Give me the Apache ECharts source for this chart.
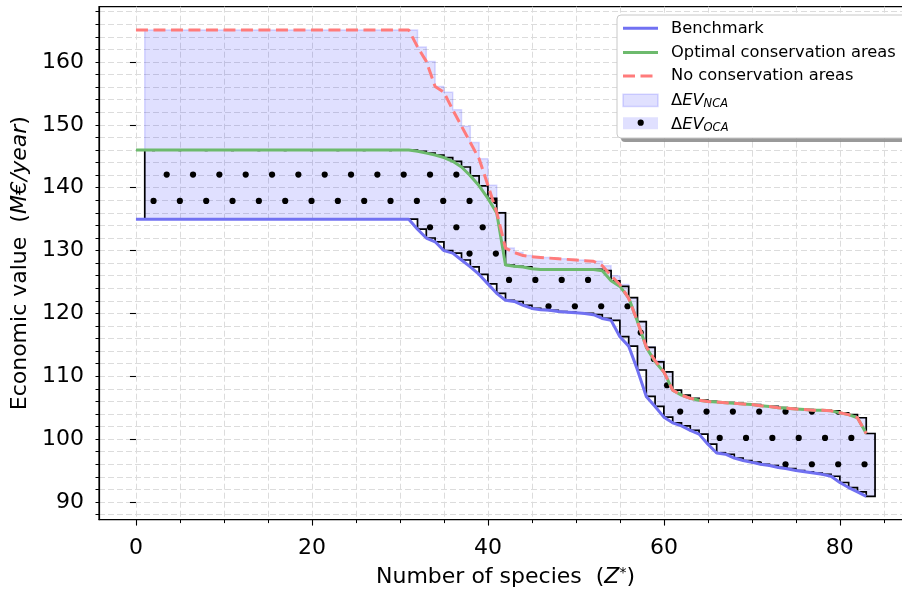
<!DOCTYPE html>
<html><head><meta charset="utf-8">
<script src="https://cdn.jsdelivr.net/npm/echarts@6/dist/echarts.min.js"></script>
<style>html,body{margin:0;padding:0;background:#fff;overflow:hidden}#c{width:902px;height:595px}</style>
</head><body><div id="c"></div>
<script>
// ---- data ----
const speciesX = [0,1,2,3,4,5,6,7,8,9,10,11,12,13,14,15,16,17,18,19,20,21,22,23,24,25,26,27,28,29,
  30,31,32,33,34,35,36,37,38,39,40,41,42,43,44,45,46,47,48,49,50,51,52,53,54,55,56,57,58,59,
  60,61,62,63,64,65,66,67,68,69,70,71,72,73,74,75,76,77,78,79,80,81,82,83];
const benchmark = [135,135,135,135,135,135,135,135,135,135,135,135,135,135,135,135,135,135,135,135,
  135,135,135,135,135,135,135,135,135,135,135,135.0,133.4,132.0,131.4,130.0,129.6,128.5,127.4,126.2,
  124.7,123.2,122.1,121.9,121.3,120.8,120.6,120.5,120.3,120.2,120.1,120.0,119.8,119.2,118.9,116.3,114.8,111.0,106.8,105.2,
  103.5,102.6,102.1,101.4,100.8,99.2,97.8,97.6,97.0,96.6,96.3,96.0,95.8,95.5,95.3,95.0,94.8,94.6,94.4,94.1,
  93.1,92.3,91.6,90.9];
const optimalCA = [146,146,146,146,146,146,146,146,146,146,146,146,146,146,146,146,146,146,146,146,
  146,146,146,146,146,146,146,146,146,146,146,146.0,145.8,145.5,145.2,144.8,144.2,143.3,141.9,140.3,
  138.3,136.0,127.7,127.5,127.4,127.1,127.0,127.0,127.0,127.0,127.0,127.0,127.0,126.8,125.2,124.3,122.5,118.7,114.6,112.3,
  110.7,107.8,107.0,106.5,106.2,106.0,105.9,105.8,105.7,105.6,105.5,105.3,105.2,105.0,104.9,104.8,104.7,104.6,104.6,104.5,
  104.2,103.9,103.4,100.9];
const noCA = [165.1,165.1,165.1,165.1,165.1,165.1,165.1,165.1,165.1,165.1,165.1,165.1,165.1,165.1,165.1,165.1,165.1,165.1,165.1,165.1,
  165.1,165.1,165.1,165.1,165.1,165.1,165.1,165.1,165.1,165.1,165.1,165.1,162.4,160.1,156.1,155.2,152.4,149.8,147.2,144.6,
  140.4,136.1,130.4,129.7,129.2,129.0,128.9,128.8,128.7,128.6,128.5,128.4,128.3,127.6,126.0,124.6,122.4,118.7,114.7,112.5,
  110.7,107.8,107.0,106.5,106.2,106.0,105.9,105.8,105.7,105.6,105.5,105.3,105.2,105.0,104.9,104.8,104.7,104.6,104.6,104.5,
  104.2,103.9,103.4,100.9];
const xTickLabels = [0,20,40,60,80];
const xMinorTicks = [0,5,10,15,20,25,30,35,40,45,50,55,60,65,70,75,80,85];
const yTickLabels = [90,100,110,120,130,140,150,160];
const yMinorTicks = [88,90,92,94,96,98,100,102,104,106,108,110,112,114,116,118,120,122,124,126,128,130,132,134,136,138,140,142,144,146,148,150,152,154,156,158,160,162,164,166,168];

// ---- styles ----
const FONT = 'DejaVu Sans';
const C_BLUE = '#7171f2';
const C_GREEN = '#6dba6d';
const C_RED = '#ff7b7b';
const C_FILL = 'rgba(0,0,255,0.12)';
const C_FILL_EDGE = 'rgba(0,0,255,0.14)';

// dot hatch pattern
function makeDots() {
  const W = 79, H = 158, P = 79 / 3;
  const cv = document.createElement('canvas');
  cv.width = W; cv.height = H;
  const g = cv.getContext('2d');
  g.fillStyle = '#000';
  const pts = [];
  for (let k = 0; k < 3; k++) for (let m = 0; m < 3; m++) {
    pts.push([8.7 + k * P, 16.6 + m * 2 * P]);
    pts.push([8.7 + P / 2 + k * P, 16.6 + P + m * 2 * P]);
  }
  pts.forEach(([x, y]) => {
    for (let dx = -1; dx <= 1; dx++) for (let dy = -1; dy <= 1; dy++) {
      g.beginPath(); g.arc(x + dx * W, y + dy * H, 3.1, 0, Math.PI * 2); g.fill();
    }
  });
  return cv;
}
const dotPattern = { image: makeDots(), repeat: 'repeat' };

function stepPolygon(api, top, bottom) {
  const n = top.length, pts = [];
  pts.push(api.coord([speciesX[0] + 1, top[0]]));
  for (let i = 1; i < n; i++) {
    pts.push(api.coord([speciesX[i], top[i]]));
    pts.push(api.coord([speciesX[i] + 1, top[i]]));
  }
  for (let i = n - 1; i >= 1; i--) {
    pts.push(api.coord([speciesX[i] + 1, bottom[i]]));
    pts.push(api.coord([speciesX[i], bottom[i]]));
  }
  pts.push(api.coord([speciesX[0] + 1, bottom[0]]));
  return pts;
}
const pairs = arr => speciesX.map((x, i) => [x, arr[i]]);

const chart = echarts.init(document.getElementById('c'), null, { renderer: 'canvas' });
const gridDash = { color: '#dcdcdc', width: 1, type: [6, 3] };
const option = {
  animation: false,
  textStyle: { fontFamily: FONT },
  grid: { left: 99, width: 813, top: 6.7, height: 512.9, outerBoundsMode: 'none', containLabel: false,
    show: true, borderColor: '#000', borderWidth: 1.2, backgroundColor: 'transparent' },
  xAxis: [{
    type: 'value', min: -4.2, max: 88.2,
    name: 'Number of species  ({i|Z}{s|*})', nameLocation: 'middle', nameGap: 47,
    nameTextStyle: { fontSize: 22, color: '#000', fontFamily: FONT,
      rich: { i: { fontSize: 22, fontStyle: 'italic', fontFamily: FONT }, s: { fontSize: 14, fontFamily: FONT, verticalAlign: 'top', lineHeight: 15 } } },
    axisLine: { show: true, onZero: false, lineStyle: { color: '#000', width: 1.2 } },
    axisTick: { show: true, customValues: xMinorTicks, length: 3.5, lineStyle: { color: '#000', width: 1 } },
    axisLabel: { show: true, customValues: xTickLabels, fontSize: 22, color: '#000', margin: 18, fontFamily: FONT },
    splitLine: { show: true, lineStyle: gridDash }
  }, {
    type: 'value', min: -4.2, max: 88.2, position: 'bottom',
    axisLine: { show: false },
    axisTick: { show: true, customValues: xTickLabels, length: 6, lineStyle: { color: '#000', width: 1.1 } },
    axisLabel: { show: false }, splitLine: { show: false }
  }],
  yAxis: [{
    type: 'value', min: 87.2, max: 168.8,
    name: 'Economic value  ({i|M€/year})', nameLocation: 'middle', nameGap: 63,
    nameTextStyle: { fontSize: 22, color: '#000', fontFamily: FONT,
      rich: { i: { fontSize: 22, fontStyle: 'italic', fontFamily: FONT } } },
    axisLine: { show: true, onZero: false, lineStyle: { color: '#000', width: 1.2 } },
    axisTick: { show: true, customValues: yMinorTicks, length: 3.5, lineStyle: { color: '#000', width: 1 } },
    axisLabel: { show: true, customValues: yTickLabels, fontSize: 22, color: '#000', margin: 15, fontFamily: FONT },
    splitLine: { show: true, lineStyle: gridDash }
  }, {
    type: 'value', min: 87.2, max: 168.8, position: 'left',
    axisLine: { show: false },
    axisTick: { show: true, customValues: yTickLabels, length: 6, lineStyle: { color: '#000', width: 1.1 } },
    axisLabel: { show: false }, splitLine: { show: false }
  }],
  series: [
    {
      type: 'custom', name: 'ΔEV_NCA', z: 1, clip: true, silent: true,
      data: [[1, 135]],
      renderItem: (params, api) => ({
        type: 'polygon', shape: { points: stepPolygon(api, noCA, benchmark) },
        style: { fill: C_FILL, stroke: C_FILL_EDGE, lineWidth: 1.5 }
      })
    },
    {
      type: 'custom', name: 'ΔEV_OCA', z: 2, clip: true, silent: true,
      data: [[1, 135]],
      renderItem: (params, api) => ({
        type: 'polygon', shape: { points: stepPolygon(api, optimalCA, benchmark) },
        style: { fill: dotPattern, stroke: '#000', lineWidth: 1.7 }
      })
    },
    { type: 'line', name: 'Benchmark', z: 3, data: pairs(benchmark), showSymbol: false, silent: true,
      lineStyle: { color: C_BLUE, width: 3 } },
    { type: 'line', name: 'Optimal conservation areas', z: 3, data: pairs(optimalCA), showSymbol: false, silent: true,
      lineStyle: { color: C_GREEN, width: 3 } },
    { type: 'line', name: 'No conservation areas', z: 4, data: pairs(noCA), showSymbol: false, silent: true,
      lineStyle: { color: C_RED, width: 3, type: [12, 5.5] } }
  ],
  graphic: [
    { type: 'rect', z: 100, shape: { x: 621, y: 19, width: 320, height: 123, r: 4 }, style: { fill: 'rgba(0,0,0,0.4)' } },
    { type: 'rect', z: 101, shape: { x: 617, y: 15, width: 320, height: 123, r: 4 }, style: { fill: '#ffffff', stroke: '#c8c8c8', lineWidth: 1 } },
    { type: 'line', z: 102, shape: { x1: 623, y1: 28.3, x2: 658, y2: 28.3 }, style: { stroke: C_BLUE, lineWidth: 3 } },
    { type: 'line', z: 102, shape: { x1: 623, y1: 52.5, x2: 658, y2: 52.5 }, style: { stroke: C_GREEN, lineWidth: 3 } },
    { type: 'line', z: 102, shape: { x1: 623, y1: 76, x2: 658, y2: 76 }, style: { stroke: C_RED, lineWidth: 3, lineDash: [12, 5.5] } },
    { type: 'rect', z: 102, shape: { x: 623, y: 94.3, width: 35, height: 12.3 }, style: { fill: C_FILL, stroke: C_FILL_EDGE, lineWidth: 1.5 } },
    { type: 'rect', z: 102, shape: { x: 623, y: 117.3, width: 35, height: 12 }, style: { fill: C_FILL } },
    { type: 'circle', z: 103, shape: { cx: 640.7, cy: 122.7, r: 3.1 }, style: { fill: '#000' } },
    { type: 'text', z: 103, x: 671, y: 28.3, style: { text: 'Benchmark', font: '16.3px "DejaVu Sans"', fill: '#000', verticalAlign: 'middle' } },
    { type: 'text', z: 103, x: 671, y: 52.5, style: { text: 'Optimal conservation areas', font: '16.3px "DejaVu Sans"', fill: '#000', verticalAlign: 'middle' } },
    { type: 'text', z: 103, x: 671, y: 76, style: { text: 'No conservation areas', font: '16.3px "DejaVu Sans"', fill: '#000', verticalAlign: 'middle' } },
    { type: 'text', z: 103, x: 671, y: 100.5, style: { text: '{a|Δ}{b|EV}{c|NCA}', verticalAlign: 'middle',
      rich: { a: { fontSize: 16.3, fontFamily: FONT, lineHeight: 20 }, b: { fontSize: 16.3, fontStyle: 'italic', fontFamily: FONT, lineHeight: 20 },
              c: { fontSize: 11.5, fontStyle: 'italic', fontFamily: FONT, lineHeight: 10, verticalAlign: 'bottom' } } } },
    { type: 'text', z: 103, x: 671, y: 124.5, style: { text: '{a|Δ}{b|EV}{c|OCA}', verticalAlign: 'middle',
      rich: { a: { fontSize: 16.3, fontFamily: FONT, lineHeight: 20 }, b: { fontSize: 16.3, fontStyle: 'italic', fontFamily: FONT, lineHeight: 20 },
              c: { fontSize: 11.5, fontStyle: 'italic', fontFamily: FONT, lineHeight: 10, verticalAlign: 'bottom' } } } }
  ]
};
chart.setOption(option);
</script></body></html>
